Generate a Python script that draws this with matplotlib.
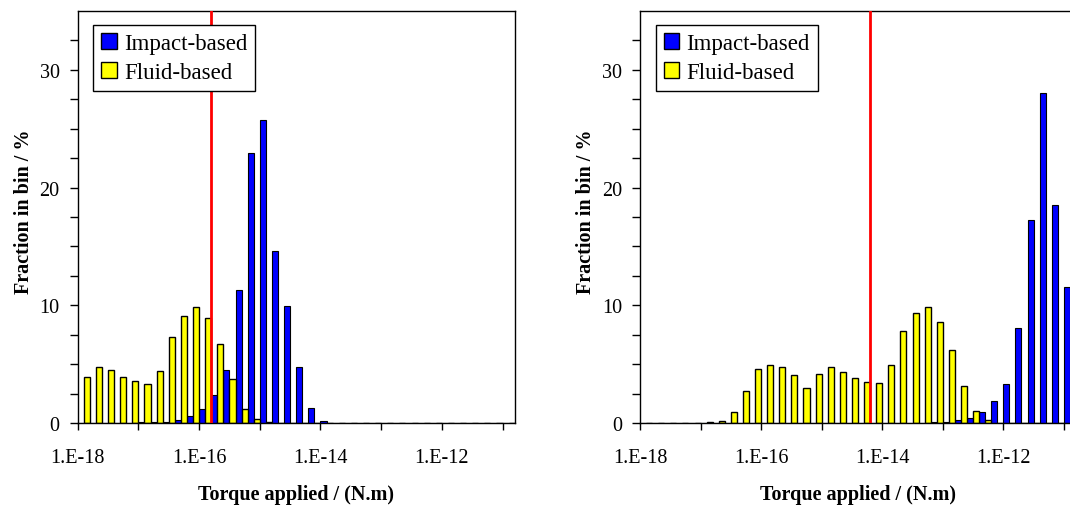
import numpy as np
import matplotlib
matplotlib.use("Agg")
import matplotlib.pyplot as plt
from matplotlib.ticker import FixedLocator, FixedFormatter, NullFormatter
from matplotlib.patches import Patch

plt.rcParams['font.family'] = ['Liberation Serif', 'DejaVu Serif']

# Bins: 5 per decade, starting at 1e-18 (lower-edge exponent of each bin)
n_bins = 36
bin_lower_exp = [-18 + 0.2 * i for i in range(n_bins)]

series_names = ["Impact-based", "Fluid-based"]

left_impact = [0, 0, 0, 0, 0, 0.05, 0.05, 0.1, 0.28, 0.57, 1.19, 2.41, 4.53, 11.27,
               22.93, 25.76, 14.63, 9.91, 4.76, 1.27, 0.17, 0, 0, 0, 0, 0, 0, 0,
               0, 0, 0, 0, 0, 0, 0, 0]
left_fluid = [3.88, 4.73, 4.50, 3.88, 3.54, 3.28, 4.42, 7.30, 9.06, 9.85, 8.92, 6.71,
              3.74, 1.22, 0.3, 0.05, 0, 0, 0, 0, 0, 0, 0, 0, 0, 0, 0, 0,
              0, 0, 0, 0, 0, 0, 0, 0]
left_threshold = 10 ** -15.8

right_impact = [0, 0, 0, 0, 0, 0, 0, 0, 0, 0, 0, 0, 0, 0, 0, 0, 0, 0, 0, 0, 0, 0,
                0, 0, 0.08, 0.05, 0.28, 0.42, 0.93, 1.84, 3.34, 8.04, 17.24, 28.05,
                18.48, 11.52]
right_fluid = [0, 0, 0, 0, 0, 0.06, 0.2, 0.91, 2.75, 4.56, 4.90, 4.76, 4.05, 3.0,
               4.19, 4.76, 4.33, 3.79, 3.48, 3.37, 4.90, 7.84, 9.31, 9.85, 8.55,
               6.17, 3.11, 0.99, 0.23, 0, 0, 0, 0, 0, 0, 0]
right_threshold = 10 ** -14.2

x_major = [1e-18, 1e-16, 1e-14, 1e-12]
x_major_labels = ["1.E-18", "1.E-16", "1.E-14", "1.E-12"]
x_minor = [1e-17, 1e-15, 1e-13, 1e-11]
y_major = [0, 10, 20, 30]
y_minor = [2.5, 5, 7.5, 12.5, 15, 17.5, 22.5, 25, 27.5, 32.5]

BLUE = "#0000FF"
YELLOW = "#FFFF00"

W, H = 1070, 506
fig = plt.figure(figsize=(W / 100, H / 100), dpi=100)
ax1 = fig.add_axes([77.7 / W, 82 / H, 437 / W, 412 / H])
ax2 = fig.add_axes([640 / W, 82 / H, 436 / W, 412 / H])


def draw(ax, impact, fluid, thr):
    ax.set_xscale('log')
    exps = np.array(bin_lower_exp)
    b_left = 10 ** exps
    b_mid = 10 ** (exps + 0.1)
    b_right = 10 ** (exps + 0.2)
    ax.bar(b_left, impact, width=b_mid - b_left, align='edge', color=BLUE,
           edgecolor='black', linewidth=0.8, zorder=2)
    ax.bar(b_mid, fluid, width=b_right - b_mid, align='edge', color=YELLOW,
           edgecolor='black', linewidth=1.0, zorder=2)
    ax.axvline(thr, color='#FF0000', linewidth=2.0, zorder=3)
    ax.set_xlim(10 ** bin_lower_exp[0], 10 ** (bin_lower_exp[-1] + 0.2))
    ax.set_ylim(0, 35)
    ax.xaxis.set_major_locator(FixedLocator(x_major))
    ax.xaxis.set_major_formatter(FixedFormatter(x_major_labels))
    ax.xaxis.set_minor_locator(FixedLocator(x_minor))
    ax.xaxis.set_minor_formatter(NullFormatter())
    ax.yaxis.set_major_locator(FixedLocator(y_major))
    ax.yaxis.set_minor_locator(FixedLocator(y_minor))
    ax.tick_params(axis='both', which='both', direction='out', width=1.0,
                   labelsize=14.5, colors='black')
    ax.tick_params(axis='x', which='both', length=5, pad=13)
    ax.tick_params(axis='y', which='both', length=6, pad=7)
    for s in ax.spines.values():
        s.set_linewidth(1.0)
        s.set_color('black')
    ax.set_xlabel("Torque applied / (N.m)", fontsize=14.5, fontweight='bold',
                  labelpad=12)
    ax.set_ylabel("Fraction in bin / %", fontsize=14.5, fontweight='bold')
    ax.yaxis.set_label_coords(-0.10, 0.515)
    handles = [Patch(facecolor=BLUE, edgecolor='black', linewidth=1.0),
               Patch(facecolor=YELLOW, edgecolor='black', linewidth=1.0)]
    leg = ax.legend(handles, series_names, loc='upper left',
                    bbox_to_anchor=(0.036, 0.966), borderaxespad=0,
                    fontsize=16.5, handlelength=0.68, handleheight=0.68,
                    handletextpad=0.3, borderpad=0.35, labelspacing=0.35,
                    fancybox=False, shadow=False, framealpha=1)
    leg.get_frame().set_edgecolor('black')
    leg.get_frame().set_linewidth(1.0)


draw(ax1, left_impact, left_fluid, left_threshold)
draw(ax2, right_impact, right_fluid, right_threshold)

fig.savefig("out.png", dpi=100)
